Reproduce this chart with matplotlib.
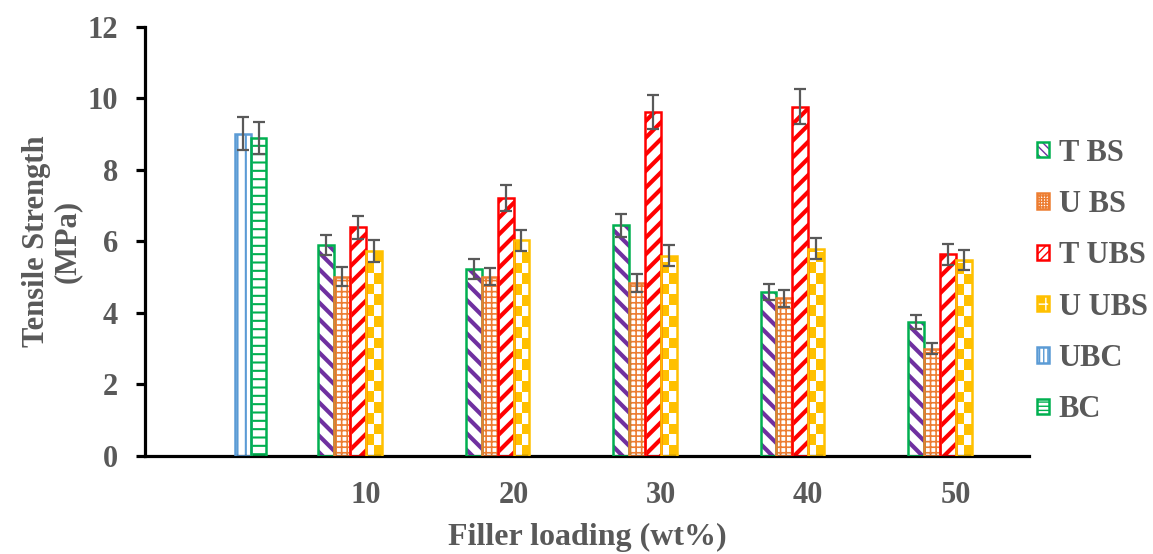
import numpy as np
import matplotlib
matplotlib.use("Agg")
import matplotlib.pyplot as plt
from matplotlib.colors import ListedColormap
from matplotlib.patches import Patch

# categories (first one is the unfilled control)
categories = ["", "10", "20", "30", "40", "50"]
series = ["T BS", "U BS", "T UBS", "U UBS", "UBC", "BC"]

nan = np.nan
t_bs = [nan, 5.90, 5.23, 6.45, 4.59, 3.75]
u_bs = [nan, 5.02, 5.02, 4.83, 4.41, 3.00]
t_ubs = [nan, 6.40, 7.21, 9.63, 9.77, 5.64]
u_ubs = [nan, 5.74, 6.03, 5.60, 5.80, 5.48]
ubc = [9.02, nan, nan, nan, nan, nan]
bc = [8.90, nan, nan, nan, nan, nan]

t_bs_err = [nan, 0.29, 0.27, 0.32, 0.23, 0.19]
u_bs_err = [nan, 0.26, 0.25, 0.25, 0.23, 0.15]
t_ubs_err = [nan, 0.32, 0.37, 0.48, 0.49, 0.29]
u_ubs_err = [nan, 0.30, 0.30, 0.29, 0.29, 0.28]
ubc_err = [0.45, nan, nan, nan, nan, nan]
bc_err = [0.45, nan, nan, nan, nan, nan]

values = [t_bs, u_bs, t_ubs, u_ubs, ubc, bc]
errors = [t_bs_err, u_bs_err, t_ubs_err, u_ubs_err, ubc_err, bc_err]

# (edge colour, hatch colour, hatch, hatch width)
styles = [
    ("#00B050", "#7030A0", "\\\\", 3.0),
    ("#ED7D31", "#ED7D31", "+++", 1.2),
    ("#FF0000", "#FF0000", "//", 3.0),
    ("#FFC000", "#FFC000", None, 1.0),
    ("#5B9BD5", "#5B9BD5", "||", 1.5),
    ("#00B050", "#00B050", "--", 1.5),
]

gray = "#595959"
font = "Liberation Serif"

fig = plt.figure(figsize=(11.53, 5.54), dpi=100)
ax = fig.add_axes([0.1258, 0.1769, 0.767, 0.7744])

x = np.arange(len(categories))
w = 0.108
checker = ListedColormap(["white", "#FFC000"])

for i, (vals, errs, st) in enumerate(zip(values, errors, styles)):
    edge, hcol, hatch, hw = st
    pos = x + (i - 2.5) * w
    with plt.rc_context({"hatch.linewidth": hw}):
        if hatch is not None:
            ax.bar(pos, vals, w, color="white", edgecolor=hcol, linewidth=0,
                   hatch=hatch, zorder=2)
        else:
            bars = ax.bar(pos, vals, w, color="white", linewidth=0, zorder=2)
            for b, v in zip(bars, vals):
                if np.isnan(v):
                    continue
                nrows = int(v / 0.3) + 1
                grid = (np.add.outer(np.arange(nrows), np.arange(2)) % 2)[::-1]
                im = ax.imshow(grid, cmap=checker, aspect="auto",
                               extent=(b.get_x(), b.get_x() + w, 0, nrows * 0.3),
                               interpolation="nearest", zorder=2.5)
                im.set_clip_path(b)
    ax.bar(pos, vals, w, fill=False, edgecolor=edge, linewidth=1.8, zorder=3)
    ax.errorbar(pos, vals, yerr=errs, fmt="none", ecolor=gray, elinewidth=1.6,
                capsize=4.5, capthick=1.6, zorder=4)

ax.set_xlim(-0.5, len(categories) - 0.5)
ax.set_ylim(0, 12)
ax.set_yticks(np.arange(0, 13, 2))
ax.set_xticks(x)
ax.set_xticklabels(categories)

for s in ["top", "right"]:
    ax.spines[s].set_visible(False)
for s in ["left", "bottom"]:
    ax.spines[s].set_linewidth(2.3)

ax.tick_params(axis="y", length=6.5, width=2.3, pad=13, colors="black",
               labelcolor=gray, labelsize=22)
ax.tick_params(axis="x", length=0, pad=18, labelcolor=gray, labelsize=22)
for lab in ax.get_xticklabels() + ax.get_yticklabels():
    lab.set_fontfamily(font)
    lab.set_fontweight("bold")

ax.set_xlabel("Filler loading (wt%)", fontsize=23, fontweight="bold",
              family=font, color=gray, labelpad=9)
ax.set_ylabel("Tensile Strength\n(MPa)", fontsize=22, fontweight="bold",
              family=font, color=gray, labelpad=4, linespacing=1.1)

# legend
handles = []
for (edge, hcol, hatch, hw) in styles:
    if hatch is None:
        inner = Patch(facecolor="#FFC000", edgecolor="white", hatch="++", linewidth=0)
    else:
        inner = Patch(facecolor="white", edgecolor=hcol, hatch=hatch * 2, linewidth=0)
    outer = Patch(fill=False, edgecolor=edge, linewidth=1.8)
    handles.append((inner, outer))

fig.legend(handles, series, loc="center left", bbox_to_anchor=(0.889, 0.492),
           frameon=False, handlelength=0.4, handleheight=0.4, handletextpad=0.3,
           labelspacing=0.73, borderaxespad=0,
           prop={"family": font, "weight": "bold", "size": 22},
           labelcolor=gray)

fig.savefig("out.png", dpi=100)
